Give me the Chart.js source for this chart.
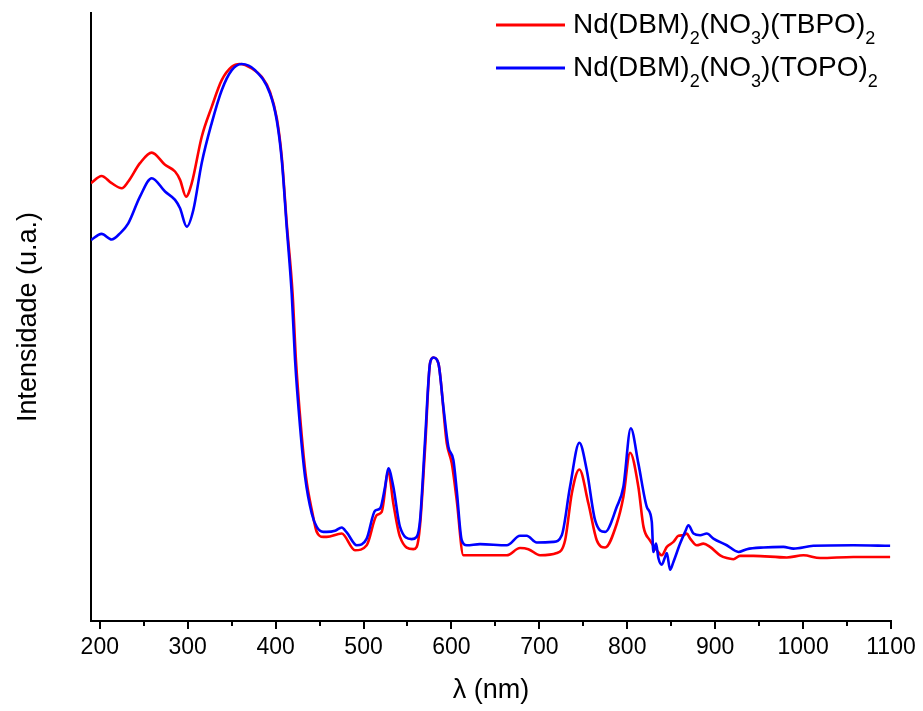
<!DOCTYPE html>
<html lang="en">
<head>
    <meta charset="UTF-8">
    <title>Nd(DBM)2 spectra</title>
    <script src="https://cdn.jsdelivr.net/npm/chart.js"></script>
    <style>
        body { margin: 0; background: #fff; }
    </style>
</head>
<body>
<canvas id="spectraChart" width="923" height="711"></canvas>

<script>
// Wavelengths (nm) and intensities (a.u., normalised to the 360 nm maximum)
const tbpoNm = [190, 202, 213.5, 225, 232.4, 245.7, 259.1, 274.2, 285.6, 291.3, 298.1, 304.6, 315.9, 327.3, 338.7,
    350.1, 359.3, 372.8, 384.2, 393.6, 401.3, 407, 412.6, 419.3, 423.1, 428.8, 434.5, 442, 446.8, 454.3, 458.1,
    475.2, 490.3, 503.6, 515, 520.7, 528.2, 533.9, 541.5, 556.7, 560.5, 564.3, 570, 575.7, 579.4, 585.1, 594.7,
    600.4, 606, 613.6, 632.5, 662.9, 678, 687.5, 700.8, 719.8, 729.3, 736.9, 745.5, 755.8, 765.3, 774.8, 788.1,
    795.6, 803.2, 812.6, 818.5, 825.6, 833.6, 839.3, 845, 852.5, 858.2, 863.9, 867.7, 871.5, 879.1, 886.6, 894.2,
    905.6, 913.2, 920.7, 928.3, 943.5, 981.5, 1000.4, 1019.4, 1057.2, 1099];
const tbpoInt = [0.786, 0.799, 0.786, 0.777, 0.789, 0.822, 0.841, 0.819, 0.807, 0.792, 0.762, 0.786, 0.869, 0.923, 0.971,
    0.995, 1.0, 0.992, 0.977, 0.950, 0.903, 0.833, 0.715, 0.588, 0.469, 0.349, 0.259, 0.193, 0.160, 0.151, 0.151,
    0.157, 0.127, 0.136, 0.190, 0.196, 0.268, 0.211, 0.151, 0.129, 0.133, 0.172, 0.310, 0.463, 0.473, 0.463, 0.319,
    0.283, 0.217, 0.118, 0.118, 0.118, 0.131, 0.129, 0.118, 0.122, 0.145, 0.229, 0.272, 0.211, 0.145, 0.132, 0.175,
    0.223, 0.302, 0.241, 0.169, 0.145, 0.127, 0.118, 0.133, 0.142, 0.153, 0.154, 0.157, 0.148, 0.136, 0.139, 0.133,
    0.118, 0.113, 0.111, 0.117, 0.117, 0.114, 0.118, 0.113, 0.115, 0.115];

const topoNm = [190, 202, 213.5, 223, 232.4, 245.7, 259.1, 274.2, 285.6, 291.3, 298.9, 306.4, 315.9, 327.3, 338.7,
    350.1, 361.4, 376.6, 393.6, 401.3, 407, 412.6, 418.3, 422.1, 427.8, 433.5, 441.1, 446.8, 454.3, 458.1, 467.6,
    475.2, 480.9, 492.3, 503.6, 513.1, 518.8, 524.5, 528.2, 533.9, 541.5, 554.8, 560.5, 564.3, 570, 575.7, 579.4,
    585.1, 590.8, 596.5, 602.2, 606, 611.7, 617.4, 632.5, 662.9, 678, 685.6, 697, 715.9, 725.5, 734.9, 745.5, 753.9,
    763.4, 774.8, 788.1, 795.6, 804, 812.6, 822.2, 827.9, 829.7, 832.8, 835.4, 839.3, 843, 845, 848.7, 852.5, 860.1,
    865.8, 869.6, 875.3, 882.9, 890.5, 898, 913.2, 926.4, 936, 954.9, 977.6, 989, 1011.7, 1057.2, 1099];
const topoInt = [0.684, 0.695, 0.685, 0.696, 0.714, 0.762, 0.795, 0.771, 0.756, 0.741, 0.708, 0.738, 0.822, 0.894, 0.953,
    0.989, 1.0, 0.989, 0.947, 0.899, 0.828, 0.708, 0.588, 0.469, 0.349, 0.259, 0.193, 0.169, 0.160, 0.160, 0.162,
    0.168, 0.159, 0.136, 0.148, 0.198, 0.202, 0.241, 0.274, 0.241, 0.169, 0.147, 0.151, 0.181, 0.325, 0.463, 0.473,
    0.463, 0.385, 0.313, 0.289, 0.235, 0.145, 0.136, 0.138, 0.136, 0.153, 0.153, 0.141, 0.142, 0.154, 0.241, 0.320, 0.271,
    0.181, 0.160, 0.205, 0.241, 0.346, 0.283, 0.205, 0.178, 0.124, 0.139, 0.113, 0.101, 0.115, 0.122, 0.092, 0.106, 0.139,
    0.160, 0.172, 0.157, 0.154, 0.157, 0.148, 0.136, 0.124, 0.129, 0.132, 0.133, 0.130, 0.135, 0.136, 0.135];

// Axis ticks
const majorTicks = [200, 300, 400, 500, 600, 700, 800, 900, 1000, 1100];
const minorTicks = [250, 350, 450, 550, 650, 750, 850, 950, 1050];

// Legend entries: [text, isSubscript]
const tbpoLabel = [['Nd(DBM)', false], ['2', true], ['(NO', false], ['3', true], [')(TBPO)', false], ['2', true]];
const topoLabel = [['Nd(DBM)', false], ['2', true], ['(NO', false], ['3', true], [')(TOPO)', false], ['2', true]];

const FONT = "'Liberation Sans', Arial, sans-serif";

function toPoints(xs, ys) {
    return xs.map((x, i) => ({ x: x, y: ys[i] }));
}

// Short minor ticks under the x axis
const minorTickPlugin = {
    id: 'minorTicks',
    afterDraw(chart) {
        const ctx = chart.ctx;
        const xScale = chart.scales.x;
        const y0 = chart.chartArea.bottom;
        ctx.save();
        ctx.strokeStyle = '#000';
        ctx.lineWidth = 2;
        minorTicks.forEach(v => {
            const px = Math.round(xScale.getPixelForValue(v));
            ctx.beginPath();
            ctx.moveTo(px, y0);
            ctx.lineTo(px, y0 + 5);
            ctx.stroke();
        });
        ctx.restore();
    }
};

// Legend with subscripts, top right
const subLegendPlugin = {
    id: 'subLegend',
    afterDraw(chart) {
        const ctx = chart.ctx;
        const entries = [
            { color: '#ff0000', parts: tbpoLabel, y: 33 },
            { color: '#0000ff', parts: topoLabel, y: 76 }
        ];
        ctx.save();
        entries.forEach(e => {
            ctx.strokeStyle = e.color;
            ctx.lineWidth = 3;
            ctx.beginPath();
            ctx.moveTo(496, e.y - 8);
            ctx.lineTo(565, e.y - 8);
            ctx.stroke();

            let x = 573;
            ctx.fillStyle = '#000';
            ctx.textBaseline = 'alphabetic';
            e.parts.forEach(([txt, sub]) => {
                ctx.font = (sub ? '18px ' : '28px ') + FONT;
                ctx.fillText(txt, x, sub ? e.y + 11 : e.y);
                x += ctx.measureText(txt).width;
            });
        });
        ctx.restore();
    }
};

new Chart(document.getElementById('spectraChart'), {
    type: 'line',
    data: {
        datasets: [
            {
                label: 'TBPO',
                data: toPoints(tbpoNm, tbpoInt),
                borderColor: '#ff0000',
                borderWidth: 2.6,
                pointRadius: 0,
                cubicInterpolationMode: 'monotone',
                order: 1
            },
            {
                label: 'TOPO',
                data: toPoints(topoNm, topoInt),
                borderColor: '#0000ff',
                borderWidth: 2.6,
                pointRadius: 0,
                cubicInterpolationMode: 'monotone',
                order: 0
            }
        ]
    },
    options: {
        responsive: false,
        animation: false,
        layout: { padding: { top: 13, right: 32, bottom: 0, left: 0 } },
        plugins: {
            legend: { display: false },
            tooltip: { enabled: false }
        },
        scales: {
            x: {
                type: 'linear',
                min: 190,
                max: 1100,
                afterBuildTicks: scale => { scale.ticks = majorTicks.map(v => ({ value: v })); },
                afterFit: scale => { scale.height = 90; },
                grid: {
                    display: true,
                    drawOnChartArea: false,
                    drawTicks: true,
                    tickLength: 8,
                    color: '#000',
                    lineWidth: 2
                },
                border: { display: true, color: '#000', width: 2 },
                ticks: {
                    color: '#000',
                    padding: 5,
                    maxRotation: 0,
                    autoSkip: false,
                    callback: v => String(v),
                    font: { family: FONT, size: 23 }
                },
                title: {
                    display: true,
                    text: 'λ (nm)',
                    color: '#000',
                    font: { family: FONT, size: 27 },
                    padding: { top: 0, bottom: 4 }
                }
            },
            y: {
                min: 0,
                max: 1.0916,
                afterFit: scale => { scale.width = 91; },
                grid: { display: false },
                border: { display: true, color: '#000', width: 2 },
                ticks: { display: false },
                title: {
                    display: true,
                    text: 'Intensidade (u.a.)',
                    color: '#000',
                    font: { family: FONT, size: 27 },
                    padding: { top: 12, bottom: 0 }
                }
            }
        }
    },
    plugins: [minorTickPlugin, subLegendPlugin]
});
</script>
</body>
</html>
